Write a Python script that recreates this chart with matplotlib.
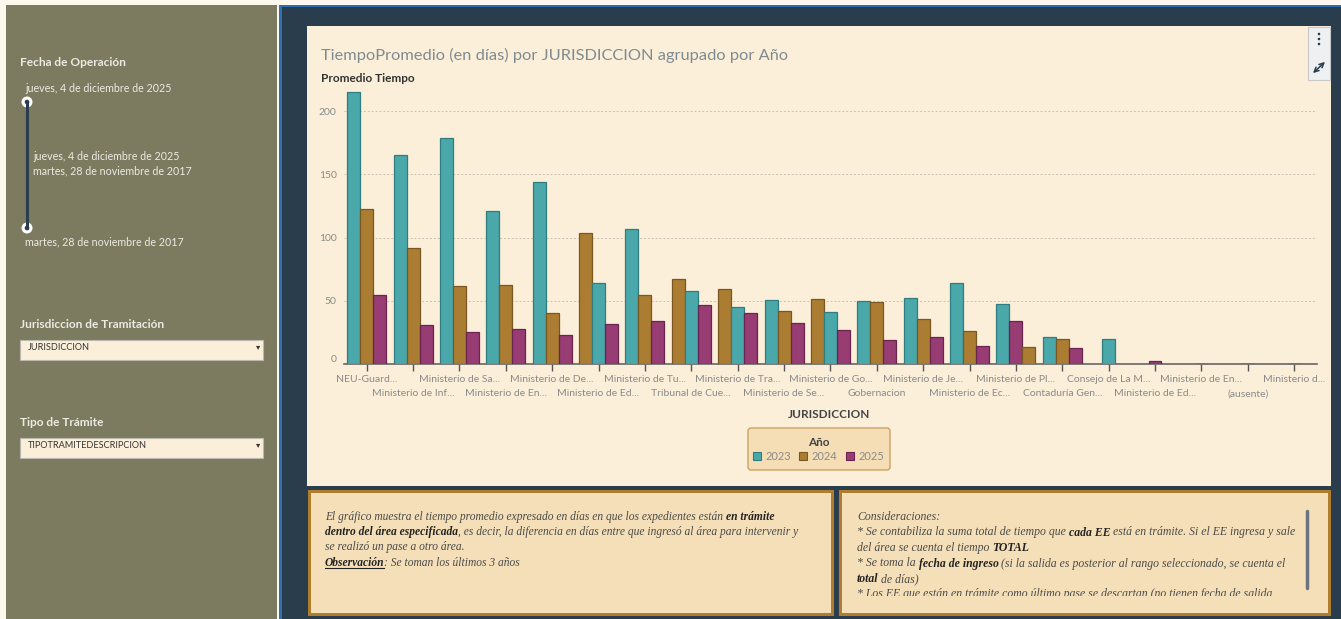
import matplotlib
matplotlib.use("Agg")
import matplotlib.pyplot as plt
import numpy as np
from matplotlib.patches import Rectangle, FancyBboxPatch, Circle

W, H = 1341, 619

# datos
jurisdicciones = [
    "NEU-Guard...", "Ministerio de Inf...", "Ministerio de Sa...", "Ministerio de En...",
    "Ministerio de De...", "Ministerio de Ed...", "Ministerio de Tu...", "Tribunal de Cue...",
    "Ministerio de Tra...", "Ministerio de Se...", "Ministerio de Go...", "Gobernacion",
    "Ministerio de Je...", "Ministerio de Ec...", "Ministerio de Pl...", "Contaduría Gen...",
    "Consejo de La M...", "Ministerio de Ed...", "Ministerio de En...", "(ausente)",
    "Ministerio d...",
]
years = ["2023", "2024", "2025"]
t2023 = [215, 165, 179, 121, 144, 64, 106.5, 58, 45, 50.5, 41, 49.8, 52.5, 64.2, 48, 21.3, 20,
         np.nan, np.nan, np.nan, np.nan]
t2024 = [122.4, 92, 62, 62.5, 40.3, 103.5, 54.5, 67.4, 59.2, 42, 51.3, 49.2, 35.5, 26, 13.4, 20,
         np.nan, np.nan, np.nan, np.nan, np.nan]
t2025 = [54.5, 30.8, 25.5, 27.6, 23.4, 31.6, 34.2, 46.6, 40.3, 32.9, 26.9, 19.2, 21.3, 14.2, 34.2,
         12.6, np.nan, 2.4, 0.6, 0.6, 0.6]
yticks = [0, 50, 100, 150, 200]

colors = ["#4aa8ab", "#ab7d33", "#973d73"]
edges = ["#2f7d80", "#7a5620", "#6a2450"]

plt.rcParams['font.family'] = ['Lato', 'DejaVu Sans']

fig = plt.figure(figsize=(W / 100, H / 100), dpi=100)
fig.patch.set_facecolor("#fdf8ed")

# capa de fondo en coordenadas de pixel
bg = fig.add_axes([0, 0, 1, 1])
bg.set_xlim(0, W)
bg.set_ylim(H, 0)
bg.axis("off")

def rect(x0, y0, x1, y1, **kw):
    p = Rectangle((x0, y0), x1 - x0, y1 - y0, **kw)
    bg.add_patch(p)
    return p

# panel izquierdo
rect(6, 5, 277, H, facecolor="#7c7b60", edgecolor="none")
# fondo oscuro
rect(279, 5, W, H, facecolor="#2f6fb0", edgecolor="none")
rect(282, 7, W, H, facecolor="#2a3d4c", edgecolor="none")
# tarjeta del grafico
rect(307, 26, 1331, 486, facecolor="#fcefd9", edgecolor="none")

lt = "#ecebe2"
bg.text(20, 63, "Fecha de Operación", fontsize=8.6, fontweight="bold", color=lt, va="center")
bg.text(25, 88, "jueves, 4 de diciembre de 2025", fontsize=7.7, color=lt, va="center")
bg.plot([27, 27], [102, 228], color="#2a3d4c", lw=2.2)
for yy in (102, 228):
    bg.add_patch(Circle((27, yy), 5.5, facecolor="white", edgecolor="none"))
    bg.add_patch(Circle((27, yy), 2.3, facecolor="#2a3d4c", edgecolor="none"))
bg.text(33, 156, "jueves, 4 de diciembre de 2025", fontsize=7.7, color=lt, va="center")
bg.text(33, 171, "martes, 28 de noviembre de 2017", fontsize=7.7, color=lt, va="center")
bg.text(25, 242, "martes, 28 de noviembre de 2017", fontsize=7.7, color=lt, va="center")

for ty, label, box in [(325, "Jurisdiccion de Tramitación", "JURISDICCION"),
                       (423, "Tipo de Trámite", "TIPOTRAMITEDESCRIPCION")]:
    bg.text(20, ty, label, fontsize=8.6, fontweight="bold", color=lt, va="center")
    rect(20, ty + 15, 263, ty + 35, facecolor="#fcefd9", edgecolor="#b9b9b0", lw=0.8)
    bg.text(28, ty + 22, box, fontsize=6.6, color="#333333", va="center")
    bg.text(258, ty + 22, "▾", fontsize=6, color="#333333", va="center", ha="center",
            family="DejaVu Sans")

# titulo
bg.text(321, 55, "TiempoPromedio (en días) por JURISDICCION agrupado por Año", fontsize=11.8,
        color="#7f8b90", va="center")
bg.text(321, 79, "Promedio Tiempo", fontsize=8.5, fontweight="bold", color="#333333", va="center")

# iconos
rect(1308, 27, 1330, 80, facecolor="#eef0f2", edgecolor="#c8c8c8", lw=0.8)
for yy in (34, 39, 44):
    bg.add_patch(Circle((1319, yy), 1.3, facecolor="#2a3d4c", edgecolor="none"))
bg.annotate("", xy=(1327, 60), xytext=(1311, 75),
            arrowprops=dict(arrowstyle="<->", color="#2a3d4c", lw=1.1, mutation_scale=8))

# grafico de barras
ax_l, ax_r, ax_t, ax_b = 343.5, 1317.3, 85, 364.3
ax = fig.add_axes([ax_l / W, 1 - ax_b / H, (ax_r - ax_l) / W, (ax_b - ax_t) / H])
ax.set_facecolor("none")
series = np.array([t2023, t2024, t2025], dtype=float)
bw = 0.28
for i in range(len(jurisdicciones)):
    present = [k for k in range(3) if not np.isnan(series[k, i])]
    present.sort(key=lambda k: -series[k, i])
    n = len(present)
    for j, k in enumerate(present):
        xpos = i + (j - (n - 1) / 2) * bw
        ax.bar(xpos, series[k, i], width=bw, color=colors[k], edgecolor=edges[k], lw=0.9,
               zorder=3)

ax.set_xlim(-0.5, len(jurisdicciones) - 0.5)
ax.set_ylim(0, (ax_b - ax_t) / 1.266)
ax.set_yticks(yticks)
ax.set_yticklabels([str(v) for v in yticks])
ax.yaxis.grid(True, linestyle=(0, (2, 2)), color="#c9c2b4", lw=0.7)
ax.set_axisbelow(True)
for s in ("left", "right", "top"):
    ax.spines[s].set_visible(False)
ax.spines["bottom"].set_color("#666666")
ax.spines["bottom"].set_linewidth(1.2)
ax.tick_params(axis="y", length=0, pad=5, labelsize=7.5, labelcolor="#8a8a8a")

# etiquetas en dos filas: pares arriba (major), impares abajo (minor)
idx = np.arange(len(jurisdicciones))
ax.set_xticks(idx[::2])
ax.set_xticklabels(jurisdicciones[::2])
ax.set_xticks(idx[1::2], minor=True)
ax.set_xticklabels(jurisdicciones[1::2], minor=True)
ax.tick_params(axis="x", which="both", length=5, width=1, color="#555555", labelsize=7.5,
               labelcolor="#8a8a8a")
ax.tick_params(axis="x", which="major", pad=3)
ax.tick_params(axis="x", which="minor", pad=13)
ax.get_yticklabels()[0].set_va("bottom")

bg.text(829, 415, "JURISDICCION", fontsize=8.5, fontweight="bold", color="#444444",
        va="center", ha="center")

# leyenda
bg.add_patch(FancyBboxPatch((748, 428), 142, 42, boxstyle="round,pad=0,rounding_size=3",
                            facecolor="#f5deb6", edgecolor="#c9a263", lw=1))
bg.text(819, 442, "Año", fontsize=8.5, fontweight="bold", color="#444444", va="center",
        ha="center")
for k, (yr, x0) in enumerate(zip(years, [753, 799, 846])):
    rect(x0, 452, x0 + 8, 460, facecolor=colors[k], edgecolor=edges[k], lw=0.8)
    bg.text(x0 + 13, 456, yr, fontsize=8, color="#8a8a8a", va="center")

# cajas de texto
def textbox(x0, y0, x1, y1):
    rect(x0, y0, x1, y1, facecolor="#b07d2e", edgecolor="none")
    return rect(x0 + 3, y0 + 3, x1 - 3, y1 - 3, facecolor="#f5dfb8", edgecolor="none")

renderer = fig.canvas.get_renderer()

def run_width(s, **kw):
    t1 = bg.text(0, 0, "x" + s + "x", **kw)
    t2 = bg.text(0, 0, "xx", **kw)
    w = t1.get_window_extent(renderer).width - t2.get_window_extent(renderer).width
    t1.remove()
    t2.remove()
    return w

def rich_line(x, y, runs, clip, size):
    for s, bold, ul in runs:
        kw = dict(fontsize=size, style="italic", family="Liberation Serif",
                  fontweight="bold" if bold else "normal",
                  color="#222222" if bold else "#4a4a4a")
        w = run_width(s, **kw)
        t = bg.text(x, y, s, va="baseline", **kw)
        t.set_clip_path(clip)
        t.set_clip_on(True)
        if ul:
            bg.plot([x, x + w], [y + 2, y + 2], color="#222222", lw=0.8)
        x += w

c1 = textbox(308, 490, 834, 616)
lines1 = [
    [("El gráfico muestra el tiempo promedio expresado en días en que los expedientes están ", 0, 0),
     ("en trámite", 1, 0)],
    [("dentro del área especificada", 1, 0),
     (", es decir, la diferencia en días entre que ingresó al área para intervenir y", 0, 0)],
    [("se realizó un pase a otro área.", 0, 0)],
    [("Observación", 1, 1), (": Se toman los últimos 3 años", 0, 0)],
]
for n, ln in enumerate(lines1):
    rich_line(325, 520 + n * 15.2, ln, c1, 8.3)

c2 = textbox(839, 490, 1331, 616)
lines2 = [
    [("Consideraciones:", 0, 0)],
    [("* Se contabiliza la suma total de tiempo que ", 0, 0), ("cada EE", 1, 0),
     (" está en trámite. Si el EE ingresa y sale", 0, 0)],
    [("del área se cuenta el tiempo ", 0, 0), ("TOTAL", 1, 0)],
    [("* Se toma la ", 0, 0), ("fecha de ingreso", 1, 0),
     (" (si la salida es posterior al rango seleccionado, se cuenta el", 0, 0)],
    [("total", 1, 0), (" de días)", 0, 0)],
    [("* Los EE que están en trámite como último pase se descartan (no tienen fecha de salida", 0, 0)],
]
clip2 = Rectangle((842, 493), 486, 103, transform=bg.transData)
for n, ln in enumerate(lines2):
    rich_line(857, 520 + n * 15.5, ln, clip2, 8.5)
bg.plot([1307, 1307], [511, 588], color="#6b7280", lw=2.5, solid_capstyle="round")

fig.savefig("out.png", dpi=100, facecolor=fig.get_facecolor())
